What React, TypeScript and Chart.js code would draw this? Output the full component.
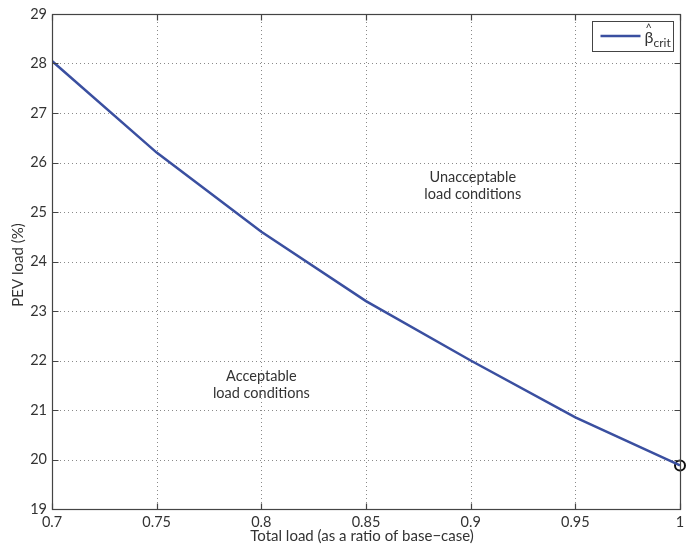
import { useEffect, useRef } from "react";
import { Chart, registerables } from "chart.js";

Chart.register(...registerables);

const loadRatio = [0.7, 0.75, 0.8, 0.85, 0.9, 0.95, 1.0];
const pevLoad = [28.05, 26.2, 24.6, 23.2, 22.0, 20.85, 19.88];
const critX = [1.0];
const critY = [19.88];
const xTicks = [0.7, 0.75, 0.8, 0.85, 0.9, 0.95, 1.0];
const yTicks = [19, 20, 21, 22, 23, 24, 25, 26, 27, 28, 29];
const xTitle = "Total load (as a ratio of base\u2212case)";
const yTitle = "PEV load (%)";
const notes = [
  { x: 0.901, y: 25.54, lines: ["Unacceptable", "load conditions"] },
  { x: 0.8, y: 21.52, lines: ["Acceptable", "load conditions"] },
];

const FONT = "Lato, 'Open Sans', sans-serif";
const TEXT = "#333";
const LINE = "#3a4fa0";

const decor = {
  id: "decor",
  beforeDatasetsDraw(chart: any) {
    const { ctx, chartArea: a, scales } = chart;
    const xs = scales.x, ys = scales.y;
    ctx.save();
    ctx.strokeStyle = "#8a8a8a";
    ctx.lineWidth = 1;
    ctx.setLineDash([1, 3]);
    xTicks.forEach((v) => {
      const px = Math.round(xs.getPixelForValue(v)) + 0.5;
      ctx.beginPath();
      ctx.moveTo(px, a.top);
      ctx.lineTo(px, a.bottom);
      ctx.stroke();
    });
    yTicks.forEach((v) => {
      const py = Math.round(ys.getPixelForValue(v)) + 0.5;
      ctx.beginPath();
      ctx.moveTo(a.left, py);
      ctx.lineTo(a.right, py);
      ctx.stroke();
    });
    ctx.setLineDash([]);
    // annotations
    ctx.fillStyle = TEXT;
    ctx.font = `14.5px ${FONT}`;
    ctx.textAlign = "center";
    ctx.textBaseline = "middle";
    notes.forEach((n) => {
      const px = xs.getPixelForValue(n.x);
      const py = ys.getPixelForValue(n.y);
      ctx.fillText(n.lines[0], px, py - 8);
      ctx.fillText(n.lines[1], px, py + 9);
    });
    ctx.restore();
  },
  afterDraw(chart: any) {
    const { ctx, chartArea: a, scales } = chart;
    const xs = scales.x, ys = scales.y;
    ctx.save();
    ctx.strokeStyle = "#444";
    ctx.lineWidth = 1.2;
    const L = Math.round(a.left) + 0.5, R = Math.round(a.right) + 0.5;
    const T = Math.round(a.top) + 0.5, B = Math.round(a.bottom) + 0.5;
    ctx.strokeRect(L, T, R - L, B - T);
    ctx.beginPath();
    xTicks.forEach((v) => {
      const px = Math.round(xs.getPixelForValue(v)) + 0.5;
      ctx.moveTo(px, B);
      ctx.lineTo(px, B - 6);
      ctx.moveTo(px, T);
      ctx.lineTo(px, T + 6);
    });
    yTicks.forEach((v) => {
      const py = Math.round(ys.getPixelForValue(v)) + 0.5;
      ctx.moveTo(L, py);
      ctx.lineTo(L + 6, py);
      ctx.moveTo(R, py);
      ctx.lineTo(R - 6, py);
    });
    ctx.stroke();

    // legend
    const lx = R - 88, ly = T + 7, lw = 81, lh = 30;
    ctx.fillStyle = "#fff";
    ctx.fillRect(lx, ly, lw, lh);
    ctx.strokeStyle = "#444";
    ctx.lineWidth = 1;
    ctx.strokeRect(lx, ly, lw, lh);
    ctx.strokeStyle = LINE;
    ctx.lineWidth = 2.5;
    ctx.beginPath();
    ctx.moveTo(lx + 8, ly + 14.5);
    ctx.lineTo(lx + 48, ly + 14.5);
    ctx.stroke();
    ctx.fillStyle = TEXT;
    ctx.textAlign = "left";
    ctx.textBaseline = "alphabetic";
    ctx.font = `16px ${FONT}`;
    ctx.fillText("\u03b2", lx + 52, ly + 21);
    ctx.font = `11px ${FONT}`;
    ctx.fillText("^", lx + 53, ly + 10);
    ctx.font = `12px ${FONT}`;
    ctx.fillText("crit", lx + 61, ly + 25);

    // axis titles
    ctx.font = `15px ${FONT}`;
    ctx.textAlign = "center";
    ctx.textBaseline = "middle";
    ctx.fillText(xTitle, 362, 536);
    ctx.translate(18, 265);
    ctx.rotate(-Math.PI / 2);
    ctx.fillText(yTitle, 0, 0);
    ctx.restore();
  },
};

export default function App() {
  const ref = useRef<HTMLCanvasElement>(null);
  useEffect(() => {
    document.body.style.margin = "0";
    const chart = new Chart(ref.current!, {
      type: "scatter",
      data: {
        datasets: [
          {
            label: "beta_crit",
            data: loadRatio.map((x, i) => ({ x, y: pevLoad[i] })),
            showLine: true,
            borderColor: LINE,
            borderWidth: 2.5,
            pointRadius: 0,
            tension: 0,
          },
          {
            label: "critical",
            data: critX.map((x, i) => ({ x, y: critY[i] })),
            pointRadius: 5,
            pointBorderWidth: 2,
            pointBorderColor: "#111",
            pointBackgroundColor: "rgba(0,0,0,0)",
            clip: false as any,
          },
        ],
      },
      plugins: [decor],
      options: {
        animation: false,
        responsive: false,
        maintainAspectRatio: false,
        layout: { padding: { top: 14, right: 13, left: 0, bottom: 0 } },
        plugins: { legend: { display: false }, tooltip: { enabled: false } },
        scales: {
          x: {
            type: "linear",
            min: 0.7,
            max: 1,
            grid: { display: false, drawTicks: false },
            border: { display: false },
            afterBuildTicks: (s: any) => {
              s.ticks = xTicks.map((v) => ({ value: v }));
            },
            afterFit: (s: any) => {
              s.height = 35;
            },
            ticks: {
              padding: 5,
              color: TEXT,
              font: { family: FONT, size: 14.5 },
              maxRotation: 0,
              callback: (v: any) => String(+Number(v).toFixed(2)),
            },
          },
          y: {
            type: "linear",
            min: 19,
            max: 29,
            grid: { display: false, drawTicks: false },
            border: { display: false },
            afterBuildTicks: (s: any) => {
              s.ticks = yTicks.map((v) => ({ value: v }));
            },
            afterFit: (s: any) => {
              s.width = 52;
            },
            ticks: {
              padding: 5,
              color: TEXT,
              font: { family: FONT, size: 14.5 },
              callback: (v: any) => String(v),
            },
          },
        },
      },
    });
    return () => chart.destroy();
  }, []);
  return (
    <div style={{ position: "absolute", left: 0, top: 0, width: 693, height: 544, background: "#fff" }}>
      <canvas ref={ref} width={693} height={544} style={{ width: 693, height: 544 }} />
    </div>
  );
}
